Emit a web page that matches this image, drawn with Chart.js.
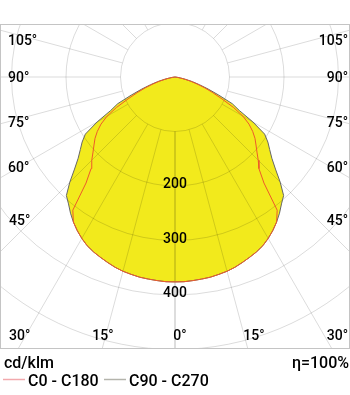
<!DOCTYPE html>
<html>
<head>
<meta charset="utf-8">
<script src="https://cdn.jsdelivr.net/npm/chart.js@4.4.1/dist/chart.umd.min.js"></script>
<style>
    html, body { margin: 0; padding: 0; background: #fff; }
    #wrap { width: 350px; height: 395px; }
</style>
</head>
<body>
<div id="wrap"><canvas id="myChart" width="350" height="395"></canvas></div>
<script>
// gamma angle from nadir (deg), C-planes are symmetric left/right
const gammaAngles = [0, 2.5, 5, 7.5, 10, 12.5, 15, 17.5, 20, 22.5, 25, 27.5, 30, 32.5, 35,
    37.5, 40, 42.5, 45, 47.5, 50, 52.5, 55, 57.5, 60, 62.5, 65, 67.5, 70, 72.5, 75, 77.5, 80, 82.5, 85, 87.5, 90];
// cd/klm
const c0c180 = [376, 376, 375, 374, 373, 371, 369, 366, 362, 358, 354, 349, 342, 334, 325,
    308, 254, 228, 216, 204, 194, 185, 174, 161, 144, 121, 95, 75, 58, 42, 29, 17, 8, 3, 0, 0, 0];
const c90c270 = [376, 376, 375, 374, 373, 371, 369, 366, 362, 358, 354, 349, 342, 334, 325,
    315, 304, 295, 273, 250, 232, 219, 208, 195, 165, 133, 116, 87, 65, 47, 33, 20, 10, 4, 0, 0, 0];
const ringValues = [100, 200, 300, 400, 500];
const ringLabels = [200, 300, 400];
const sideAngles = [105, 90, 75, 60, 45, 30];
const bottomAngles = [15, 0, 15];
const seriesNames = ['C0 - C180', 'C90 - C270'];

const YELLOW = '#f2ea1c';
const FONT_FAMILY = 'Roboto';

// polar -> xy, left half going up, then right half coming back down
function toPoints(values) {
    const pts = [];
    for (let i = 0; i < gammaAngles.length; i++) {
        const a = gammaAngles[i] * Math.PI / 180;
        pts.push({ x: -values[i] * Math.sin(a), y: -values[i] * Math.cos(a) });
    }
    for (let i = gammaAngles.length - 1; i >= 0; i--) {
        const a = gammaAngles[i] * Math.PI / 180;
        pts.push({ x: values[i] * Math.sin(a), y: -values[i] * Math.cos(a) });
    }
    return pts;
}

const polarGrid = {
    id: 'polarGrid',
    beforeDatasetsDraw(chart) {
        const { ctx, chartArea: a, scales: { x, y } } = chart;
        const cx = x.getPixelForValue(0), cy = y.getPixelForValue(0);
        const k = x.getPixelForValue(100) - cx;
        ctx.save();
        ctx.beginPath();
        ctx.rect(a.left, a.top, a.right - a.left, a.bottom - a.top);
        ctx.clip();
        ctx.strokeStyle = 'rgba(0,0,0,0.14)';
        ctx.lineWidth = 1;
        ringValues.forEach(v => {
            ctx.beginPath();
            ctx.arc(cx, cy, v / 100 * k, 0, Math.PI * 2);
            ctx.stroke();
        });
        for (let g = 0; g <= 180; g += 15) {
            const a2 = g * Math.PI / 180;
            [-1, 1].forEach(side => {
                const dx = side * Math.sin(a2), dy = Math.cos(a2);
                ctx.beginPath();
                ctx.moveTo(cx + dx * k, cy + dy * k);
                ctx.lineTo(cx + dx * k * 7, cy + dy * k * 7);
                ctx.stroke();
            });
        }
        ctx.restore();
    },
    afterDraw(chart) {
        const { ctx, chartArea: a, scales: { x, y } } = chart;
        const cx = x.getPixelForValue(0), cy = y.getPixelForValue(0);
        const k = x.getPixelForValue(100) - cx;
        ctx.save();
        // frame
        ctx.strokeStyle = '#c4c4c4';
        ctx.lineWidth = 1;
        ctx.strokeRect(a.left + 0.5, a.top + 0.5, a.right - a.left - 1, a.bottom - a.top);

        ctx.fillStyle = '#000';
        ctx.font = '500 14px ' + FONT_FAMILY;
        ctx.textBaseline = 'alphabetic';
        ctx.textAlign = 'center';
        ringLabels.forEach(v => ctx.fillText(String(v), cx, cy + v / 100 * k + 2));

        const sideY = [44.7, 82.3, 126.7, 171.7, 225, 340];
        sideAngles.forEach((g, i) => {
            ctx.textAlign = 'left';
            ctx.fillText(g + '°', i > 3 ? 9 : 8, sideY[i]);
            ctx.textAlign = 'right';
            ctx.fillText(g + '°', 348, sideY[i]);
        });
        const bottomX = [103, 180, 254];
        ctx.textAlign = 'center';
        bottomAngles.forEach((g, i) => ctx.fillText(g + '°', bottomX[i], 340));

        // unit, efficiency and legend
        ctx.font = '500 16px ' + FONT_FAMILY;
        ctx.textAlign = 'left';
        ctx.fillText('cd/klm', 4, 368);
        ctx.textAlign = 'right';
        ctx.fillText('η=100%', 349, 368);
        ctx.textAlign = 'left';
        const legendX = [3, 104];
        const legendCol = ['#f2a9ad', '#b4b4ac'];
        ctx.lineWidth = 1.5;
        seriesNames.forEach((name, i) => {
            ctx.strokeStyle = legendCol[i];
            ctx.beginPath();
            ctx.moveTo(legendX[i], 379.5);
            ctx.lineTo(legendX[i] + 22, 379.5);
            ctx.stroke();
            ctx.fillText(name, legendX[i] + 25, 386);
        });
        ctx.restore();
    }
};

const ctx = document.getElementById('myChart').getContext('2d');
const pxPerUnit = 0.545;
new Chart(ctx, {
    type: 'scatter',
    data: {
        datasets: [
            {
                label: seriesNames[0],
                data: toPoints(c0c180),
                showLine: true,
                borderColor: '#ef5a2a',
                borderWidth: 1,
                backgroundColor: YELLOW,
                fill: 'shape',
                pointRadius: 0,
                tension: 0
            },
            {
                label: seriesNames[1],
                data: toPoints(c90c270),
                showLine: true,
                borderColor: '#666666',
                borderWidth: 1,
                backgroundColor: YELLOW,
                fill: 'shape',
                pointRadius: 0,
                tension: 0
            }
        ]
    },
    options: {
        responsive: false,
        animation: false,
        layout: { padding: { left: 0, right: 0, top: 24, bottom: 47 } },
        scales: {
            x: { display: false, min: -175 / pxPerUnit, max: 175 / pxPerUnit },
            y: { display: false, min: -(348 - 77) / pxPerUnit, max: (77 - 24) / pxPerUnit }
        },
        plugins: {
            legend: { display: false },
            tooltip: { enabled: false },
            filler: { drawTime: 'beforeDatasetsDraw' }
        }
    },
    plugins: [polarGrid]
});
</script>
</body>
</html>
